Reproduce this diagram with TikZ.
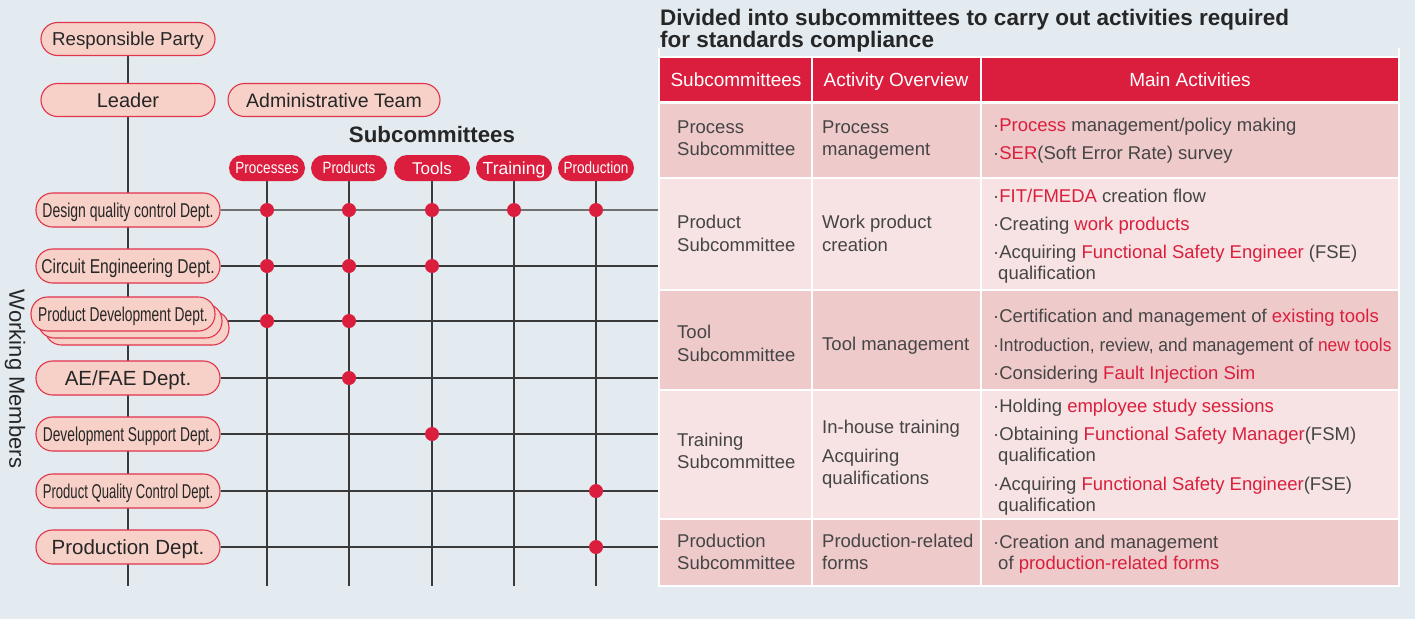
\documentclass[tikz,border=0pt]{standalone}
\usepackage{fontspec}
\setmainfont{Liberation Sans}
\usepackage{graphicx}
\newcommand\myfs[1]{\fontsize{#1}{#1}\selectfont}
\definecolor{bgc}{HTML}{E3EBF1}
\definecolor{pillfill}{HTML}{F7D1C8}
\definecolor{pilldraw}{HTML}{E0344B}
\definecolor{subred}{HTML}{DC1E3E}
\definecolor{hlred}{HTML}{DA1F3D}
\definecolor{gridc}{HTML}{3A3A3A}
\definecolor{gridl}{HTML}{707070}
\definecolor{txt}{HTML}{262626}
\definecolor{ttxt}{HTML}{454545}
\definecolor{rowa}{HTML}{EFCACA}
\definecolor{rowb}{HTML}{F7E3E3}
\newcommand\hl[1]{\textcolor{hlred}{#1}}
\pgfdeclarelayer{bg}
\pgfdeclarelayer{lines}
\pgfsetlayers{bg,lines,main}
\tikzset{
  pill/.style={draw=pilldraw, fill=pillfill, line width=1.1pt, rounded corners=16.5pt,
    minimum height=34pt, inner sep=0pt, text=txt},
  subpill/.style={fill=subred, rounded corners=13pt, minimum height=26pt,
    minimum width=76pt, inner sep=0pt, text=white},
  ch/.style={text height=#1pt, text depth=0pt},
  dot/.style={circle, fill=subred, minimum size=14pt, inner sep=0pt},
  gridline/.style={draw=gridc, line width=1.4pt},
  tt/.style={anchor=base west, inner sep=0pt, text=ttxt, font={\myfs{18.5}}},
  hdr/.style={inner sep=0pt, text=white, font={\myfs{19}}, text height=13.6pt, text depth=0pt},
}
\begin{document}
\begin{tikzpicture}[x=1pt,y=-1pt]
\useasboundingbox (0,0) rectangle (1415,619);
\begin{pgfonlayer}{bg}
\fill[bgc] (0,0) rectangle (1415,619);
\end{pgfonlayer}

% ---------- left organisation ----------
\node[pill, ch=13.4, minimum width=174pt, minimum height=33pt] (resp) at (128,39) {\myfs{18.7}Responsible Party};
\node[pill, ch=14.3, minimum width=174pt, minimum height=33pt] (lead) at (128,100) {\myfs{20}Leader};
\node[pill, ch=14, minimum width=212pt, minimum height=33pt] (adm) at (334,100) {\myfs{19.5}Administrative Team};

\node[inner sep=0pt, text=txt, font={\bfseries\myfs{22.3}}, text height=16pt, text depth=0pt] (subt) at (432,134) {Subcommittees};

\node[subpill, ch=11.7] (sp1) at (267,168) {\myfs{16.3}\scalebox{0.83}[1]{Processes}};
\node[subpill, ch=11.7] (sp2) at (349,168) {\myfs{16.3}\scalebox{0.82}[1]{Products}};
\node[subpill, ch=12.2] (sp3) at (432,168) {\myfs{17}Tools};
\node[subpill, ch=12.5] (sp4) at (514,168) {\myfs{17.5}Training};
\node[subpill, ch=11.7] (sp5) at (596,168) {\myfs{16.3}\scalebox{0.83}[1]{Production}};

\node[pill, ch=14.3, minimum width=184pt] (dq) at (128,210) {\myfs{20}\scalebox{0.70}[1]{Design quality control Dept.}};
\node[pill, ch=14.3, minimum width=184pt] (ce) at (128,266) {\myfs{20}\scalebox{0.78}[1]{Circuit Engineering Dept.}};
\node[pill, minimum width=184pt] (pd3) at (137,328) {};
\node[pill, minimum width=184pt] (pd2) at (130,321) {};
\node[pill, ch=14.3, minimum width=184pt] (pd) at (123,314) {\myfs{20}\scalebox{0.69}[1]{Product Development Dept.}};
\node[pill, ch=14.7, minimum width=184pt] (ae) at (128,378) {\myfs{20.5}AE/FAE Dept.};
\node[pill, ch=14.3, minimum width=184pt] (ds) at (128,434) {\myfs{20}\scalebox{0.69}[1]{Development Support Dept.}};
\node[pill, ch=14.3, minimum width=184pt] (pq) at (128,491) {\myfs{20}\scalebox{0.655}[1]{Product Quality Control Dept.}};
\node[pill, ch=14.7, minimum width=184pt] (pr) at (128,547) {\myfs{20.5}Production Dept.};

\node[rotate=-90, inner sep=0pt, text=txt, font={\myfs{22}}] (wm) at (15,379) {Working Members};

% end coordinates
\coordinate (mb) at (128,586);
\coordinate (c1b) at (267,586);
\coordinate (c2b) at (349,586);
\coordinate (c3b) at (432,586);
\coordinate (c4b) at (514,586);
\coordinate (c5b) at (596,586);
\coordinate (r1e) at (660,210);
\coordinate (r2e) at (660,266);
\coordinate (r3e) at (660,321);
\coordinate (r4e) at (660,378);
\coordinate (r5e) at (660,434);
\coordinate (r6e) at (660,491);
\coordinate (r7e) at (660,547);

\begin{pgfonlayer}{lines}
\draw[gridline] (resp) -- (lead);
\draw[gridline] (lead) -- (mb);
\draw[gridline] (sp1) -- (c1b);
\draw[gridline] (sp2) -- (c2b);
\draw[gridline] (sp3) -- (c3b);
\draw[gridline] (sp4) -- (c4b);
\draw[gridline] (sp5) -- (c5b);
\draw[gridline, draw=gridl, line width=2pt] (dq) -- (r1e);
\draw[gridline] (ce) -- (r2e);
\draw[gridline] (pd2) -- (r3e);
\draw[gridline] (ae) -- (r4e);
\draw[gridline] (ds) -- (r5e);
\draw[gridline] (pq) -- (r6e);
\draw[gridline] (pr) -- (r7e);
\end{pgfonlayer}

% dots
\node[dot] (d11) at (267,210) {};
\node[dot] (d12) at (349,210) {};
\node[dot] (d13) at (432,210) {};
\node[dot] (d14) at (514,210) {};
\node[dot] (d15) at (596,210) {};
\node[dot] (d21) at (267,266) {};
\node[dot] (d22) at (349,266) {};
\node[dot] (d23) at (432,266) {};
\node[dot] (d31) at (267,321) {};
\node[dot] (d32) at (349,321) {};
\node[dot] (d42) at (349,378) {};
\node[dot] (d53) at (432,434) {};
\node[dot] (d65) at (596,491) {};
\node[dot] (d75) at (596,547) {};

% ---------- title ----------
\node[anchor=base west, inner sep=0pt, text=txt, font={\bfseries\myfs{22.5}}] (ti1) at (660,25) {Divided into subcommittees to carry out activities required};
\node[anchor=base west, inner sep=0pt, text=txt, font={\bfseries\myfs{22.5}}] (ti2) at (660,47) {for standards compliance};

% ---------- table ----------
\fill[white] (658,56) rectangle (1400,587);
\draw[white, line width=2pt] (659,48) -- (659,56) (1399,48) -- (1399,56);
\fill[subred] (660,58) rectangle (811,101);
\fill[subred] (813,58) rectangle (980,101);
\fill[subred] (982,58) rectangle (1398,101);
\foreach \ya/\yb/\c in {104/177/rowa,179/289/rowb,291/389/rowa,391/518/rowb,520/585/rowa}{
  \fill[\c] (660,\ya) rectangle (811,\yb);
  \fill[\c] (813,\ya) rectangle (980,\yb);
  \fill[\c] (982,\ya) rectangle (1398,\yb);
}
\node[hdr] (h1) at (736,80) {Subcommittees};
\node[hdr] (h2) at (896,80) {Activity Overview};
\node[hdr] (h3) at (1190,80) {Main Activities};

% row 1
\node[tt] (a1) at (677,133) {Process};
\node[tt] (a2) at (677,155) {Subcommittee};
\node[tt] (a3) at (822,133) {Process};
\node[tt] (a4) at (822,155) {management};
\node[tt] (a5) at (993,131) {·\hl{Process} management/policy making};
\node[tt] (a6) at (993,159) {·\hl{SER}(Soft Error Rate) survey};
% row 2
\node[tt] (b1) at (677,228) {Product};
\node[tt] (b2) at (677,251) {Subcommittee};
\node[tt] (b3) at (822,228) {Work product};
\node[tt] (b4) at (822,251) {creation};
\node[tt] (b5) at (993,202) {·\hl{FIT/FMEDA} creation flow};
\node[tt] (b6) at (993,230) {·Creating \hl{work products}};
\node[tt] (b7) at (993,258) {·Acquiring \hl{Functional Safety Engineer} (FSE)};
\node[tt] (b8) at (998,279) {qualification};
% row 3
\node[tt] (c1) at (677,338) {Tool};
\node[tt] (c2) at (677,361) {Subcommittee};
\node[tt] (c3) at (822,350) {Tool management};
\node[tt] (c4) at (993,322) {·Certification and management of \hl{existing tools}};
\node[tt] (c5) at (993,351) {\scalebox{0.94}[1]{·Introduction, review, and management of \hl{new tools}}};
\node[tt] (c6) at (993,379) {·Considering \hl{Fault Injection Sim}};
% row 4
\node[tt] (e1) at (677,446) {Training};
\node[tt] (e2) at (677,468) {Subcommittee};
\node[tt] (e3) at (822,433) {In-house training};
\node[tt] (e4) at (822,462) {Acquiring};
\node[tt] (e5) at (822,484) {qualifications};
\node[tt] (e6) at (993,412) {·Holding \hl{employee study sessions}};
\node[tt] (e7) at (993,440) {·Obtaining \hl{Functional Safety Manager}(FSM)};
\node[tt] (e8) at (998,461) {qualification};
\node[tt] (e9) at (993,490) {·Acquiring \hl{Functional Safety Engineer}(FSE)};
\node[tt] (e10) at (998,511) {qualification};
% row 5
\node[tt] (f1) at (677,547) {Production};
\node[tt] (f2) at (677,569) {Subcommittee};
\node[tt] (f3) at (822,547) {Production-related};
\node[tt] (f4) at (822,569) {forms};
\node[tt] (f5) at (993,548) {·Creation and management};
\node[tt] (f6) at (998,569) {of \hl{production-related forms}};
\end{tikzpicture}
\end{document}
